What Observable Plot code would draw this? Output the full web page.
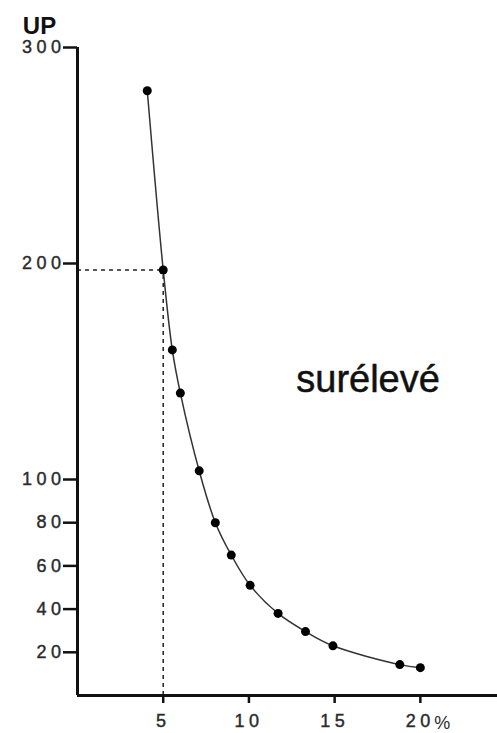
<!DOCTYPE html>
<html>
<head>
<meta charset="utf-8">
<script src="https://cdn.jsdelivr.net/npm/d3@7"></script>
<script src="https://cdn.jsdelivr.net/npm/@observablehq/plot@0.6"></script>
<style>
  html, body { margin: 0; padding: 0; background: #fff; }
  #chart { position: relative; width: 497px; height: 733px; }
  #chart svg { display: block; }
  #chart svg g[aria-label="y-axis tick label"] text,
  #chart svg g[aria-label="x-axis tick label"] text,
  #chart svg g[aria-label="unit"] text {
    font-size: 18px !important; letter-spacing: 4.5px; stroke: #2a2a2a; stroke-width: 0.4px;
  }
  #chart svg g[aria-label="unit"] text { letter-spacing: 0; }
</style>
</head>
<body>
<div id="chart"></div>
<script>
// Data
const pct = [4.07, 5.0, 5.53, 6.0, 7.1, 8.04, 8.97, 10.07, 11.7, 13.3, 14.9, 18.8, 20.0];
const up  = [280, 197, 160, 140, 104, 80, 65, 51, 38, 29.6, 23, 14.3, 12.9];
const yTicks = [20, 40, 60, 80, 100, 200, 300];
const xTicks = [5, 10, 15, 20];
const refX = 5;
const refY = 197;
const yTitle = "UP";
const label = "surélevé";
const xUnit = "%";

const pts = pct.map((p, i) => ({x: p, y: up[i]}));
const font = "'Liberation Sans', Arial, sans-serif";

const chart = Plot.plot({
  width: 497,
  height: 733,
  marginLeft: 77,
  marginRight: 0,
  marginTop: 47,
  marginBottom: 38,
  style: {fontFamily: font, fontSize: "18px", color: "#111", background: "#fff"},
  x: {domain: [0, 24.5], axis: null, label: null},
  y: {domain: [0, 300], axis: null, label: null},
  marks: [
    // dashed reference lines
    Plot.ruleY([refY], {x1: 0, x2: refX, stroke: "#222", strokeWidth: 1.5, strokeDasharray: "4,4"}),
    Plot.ruleX([refX], {y1: 0, y2: refY, stroke: "#222", strokeWidth: 1.5, strokeDasharray: "4,4"}),
    // axes
    Plot.axisY({ticks: yTicks, label: null, tickSize: 14, tickPadding: -2, strokeWidth: 2.5, stroke: "#111",
      fontSize: 18, fill: "#2a2a2a"}),
    Plot.axisX({ticks: xTicks, label: null, tickSize: 8, tickPadding: 11, strokeWidth: 2.5, stroke: "#111",
      fontSize: 18, fill: "#2a2a2a"}),
    Plot.text([20], {x: d => d, y: 0, text: () => xUnit, textAnchor: "start", dx: 14, dy: 28, fontSize: 18, fill: "#2a2a2a", ariaLabel: "unit"}),
    Plot.ruleX([0], {y1: 0, y2: 300, stroke: "#111", strokeWidth: 3}),
    Plot.ruleY([0], {x1: 0, x2: 24.5, stroke: "#111", strokeWidth: 3}),
    // curve and dots
    Plot.line(pts, {x: "x", y: "y", curve: "catmull-rom", stroke: "#333", strokeWidth: 1.5}),
    Plot.dot(pts, {x: "x", y: "y", r: 4.5, fill: "#000"}),
    // labels
    Plot.text([yTitle], {x: 0, y: 300, text: d => d, dx: -38, dy: -21, fontSize: 24, fontWeight: "bold", fill: "#111"}),
    Plot.text([label], {x: 16.95, y: 146, text: d => d, fontSize: 38, fill: "#111", stroke: "#111", strokeWidth: 0.5})
  ]
});
document.getElementById("chart").appendChild(chart);
</script>
</body>
</html>
